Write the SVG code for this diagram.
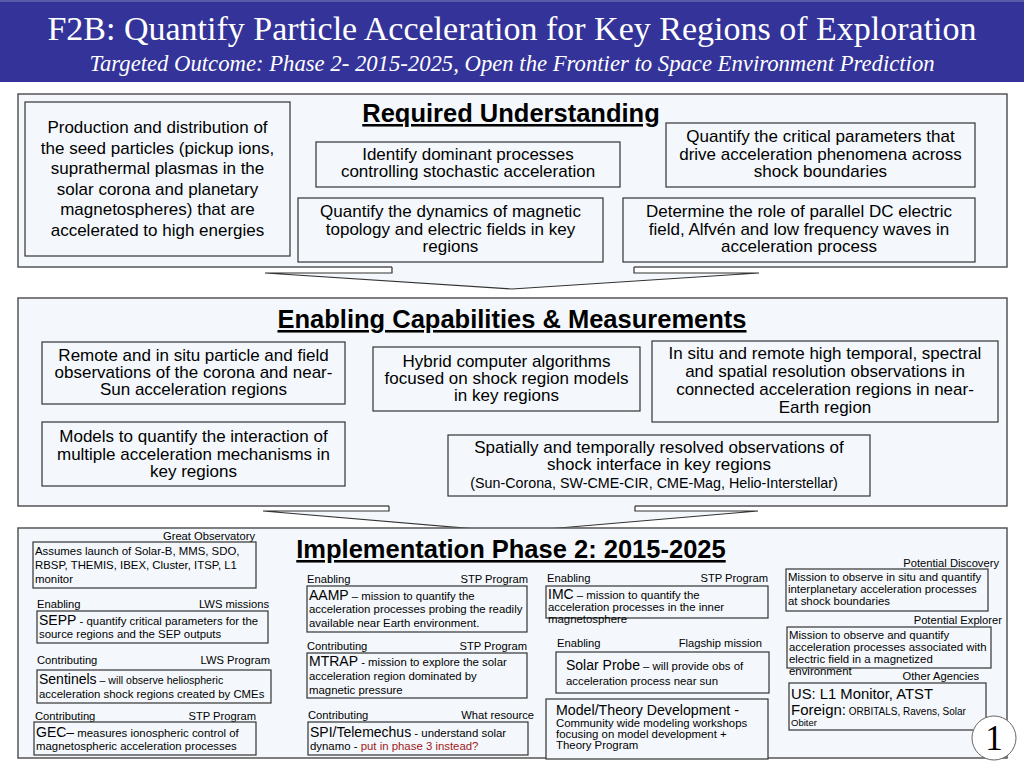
<svg xmlns="http://www.w3.org/2000/svg" width="1024" height="768" viewBox="0 0 1024 768">
<style>
.sec{fill:#f4f8fc;stroke:#555;stroke-width:1.5}
.box{fill:#f4f8fc;stroke:#333;stroke-width:1.2}
.arrf{fill:#f4f8fc;stroke:none}
.arrs{fill:none;stroke:#333;stroke-width:1.2}
text{font-family:"Liberation Sans",Arial,sans-serif;fill:#000}
.c{font-size:17px;text-anchor:middle}
.h{font-size:25.5px;font-weight:bold;text-anchor:middle;text-decoration:underline}
.lab{font-size:11.2px}
.r{text-anchor:end}
.s{font-size:11.4px}
.b{font-size:14px}
.ser{font-family:"Liberation Serif","Times New Roman",serif;fill:#fff}
</style>
<rect x="0" y="0" width="1024" height="82" fill="#333399"/>
<rect x="0" y="0" width="1024" height="2" fill="#5a5aaa"/>
<text class="ser" x="512" y="40" font-size="34" text-anchor="middle">F2B: Quantify Particle Acceleration for Key Regions of Exploration</text>
<text class="ser" x="512" y="71" font-size="22.7" font-style="italic" text-anchor="middle">Targeted Outcome: Phase 2- 2015-2025, Open the Frontier to Space Environment Prediction</text>

<g id="section-required">
<rect class="sec" x="18" y="94" width="989" height="173"/>
<text class="h" x="511" y="122">Required Understanding</text>
</g>
<g id="n-production">
<rect class="box" x="25" y="102" width="265" height="154"/>
<text class="c" x="157.5" y="133">Production and distribution of</text>
<text class="c" x="157.5" y="154">the seed particles (pickup ions,</text>
<text class="c" x="157.5" y="174">suprathermal plasmas in the</text>
<text class="c" x="157.5" y="195">solar corona and planetary</text>
<text class="c" x="157.5" y="215">magnetospheres) that are</text>
<text class="c" x="157.5" y="236">accelerated to high energies</text>
</g>
<g id="n-identify">
<rect class="box" x="316" y="142" width="304" height="45"/>
<text class="c" x="468" y="160">Identify dominant processes</text>
<text class="c" x="468" y="177">controlling stochastic acceleration</text>
</g>
<g id="n-critical">
<rect class="box" x="666" y="123" width="309" height="64"/>
<text class="c" x="820.5" y="142">Quantify the critical parameters that</text>
<text class="c" x="820.5" y="160">drive acceleration phenomena across</text>
<text class="c" x="820.5" y="177">shock boundaries</text>
</g>
<g id="n-dynamics">
<rect class="box" x="298" y="198" width="305" height="64"/>
<text class="c" x="450.5" y="217">Quantify the dynamics of magnetic</text>
<text class="c" x="450.5" y="235">topology and electric fields in key</text>
<text class="c" x="450.5" y="252">regions</text>
</g>
<g id="n-determine">
<rect class="box" x="623" y="198" width="352" height="64"/>
<text class="c" x="799" y="217">Determine the role of parallel DC electric</text>
<text class="c" x="799" y="235">field, Alfvén and low frequency waves in</text>
<text class="c" x="799" y="252">acceleration process</text>
</g>

<g id="section-enabling">
<rect class="sec" x="18" y="298" width="989" height="208"/>
<text class="h" x="512" y="328">Enabling Capabilities &amp; Measurements</text>
</g>
<g id="n-remote">
<rect class="box" x="42" y="342" width="303" height="62"/>
<text class="c" x="193.5" y="361">Remote and in situ particle and field</text>
<text class="c" x="193.5" y="378">observations of the corona and near-</text>
<text class="c" x="193.5" y="395">Sun acceleration regions</text>
</g>
<g id="n-models">
<rect class="box" x="42" y="422" width="303" height="64"/>
<text class="c" x="193.5" y="442">Models to quantify the interaction of</text>
<text class="c" x="193.5" y="460">multiple acceleration mechanisms in</text>
<text class="c" x="193.5" y="477">key regions</text>
</g>
<g id="n-hybrid">
<rect class="box" x="373" y="347" width="267" height="64"/>
<text class="c" x="506.5" y="367">Hybrid computer algorithms</text>
<text class="c" x="506.5" y="384">focused on shock region models</text>
<text class="c" x="506.5" y="401">in key regions</text>
</g>
<g id="n-insitu">
<rect class="box" x="652" y="341" width="346" height="81"/>
<text class="c" x="825" y="359">In situ and remote high temporal, spectral</text>
<text class="c" x="825" y="377">and spatial resolution observations in</text>
<text class="c" x="825" y="395">connected acceleration regions in near-</text>
<text class="c" x="825" y="413">Earth region</text>
</g>
<g id="n-spatially">
<rect class="box" x="448" y="435" width="422" height="61"/>
<text class="c" x="659" y="453">Spatially and temporally resolved observations of</text>
<text class="c" x="659" y="470">shock interface in key regions</text>
<text class="c" x="654" y="488" style="font-size:14.3px">(Sun-Corona, SW-CME-CIR, CME-Mag, Helio-Interstellar)</text>
</g>

<g id="connectors">
<polygon class="arrf" points="392,265 392,273 265,273 512,289 759,273 634,273 634,265"/>
<path class="arrs" d="M392,267 V273 H265 L512,289 L759,273 H634 V267"/>
<polygon class="arrf" points="389,504 389,511 263,511 512,532 758,511 635,511 635,504"/>
<path class="arrs" d="M389,506 V511 H263 L512,532 L758,511 H635 V506"/>
</g>

<g id="section-implementation">
<rect class="sec" x="18" y="528" width="989" height="230"/>
<text class="h" x="511" y="558">Implementation Phase 2: 2015-2025</text>
</g>
<g id="n-great">
<text class="lab r" x="255" y="540">Great Observatory</text>
<rect class="box" x="33" y="542" width="223" height="46"/>
<text class="s" x="35" y="555">Assumes launch of Solar-B, MMS, SDO,</text>
<text class="s" x="35" y="569">RBSP, THEMIS, IBEX, Cluster, ITSP, L1</text>
<text class="s" x="35" y="583">monitor</text>
</g>
<g id="n-sepp">
<text class="lab" x="37" y="608">Enabling</text>
<text class="lab r" x="269" y="608">LWS missions</text>
<rect class="box" x="37" y="611" width="231" height="32"/>
<text class="s" x="39" y="625"><tspan class="b">SEPP</tspan> - quantify critical parameters for the</text>
<text class="s" x="39" y="638">source regions and the SEP outputs</text>
</g>
<g id="n-sentinels">
<text class="lab" x="37" y="664">Contributing</text>
<text class="lab r" x="270" y="664">LWS Program</text>
<rect class="box" x="37" y="670" width="234" height="33"/>
<text x="39" y="684" style="font-size:10.6px"><tspan class="b">Sentinels</tspan> – will observe heliospheric</text>
<text class="s" x="39" y="698">acceleration shock regions created by CMEs</text>
</g>
<g id="n-gec">
<text class="lab" x="35" y="720">Contributing</text>
<text class="lab r" x="256" y="720">STP Program</text>
<rect class="box" x="34" y="722" width="222" height="33"/>
<text class="s" x="36" y="737"><tspan class="b">GEC–</tspan> measures ionospheric control of</text>
<text class="s" x="36" y="750">magnetospheric acceleration processes</text>
</g>
<g id="n-aamp">
<text class="lab" x="307" y="583">Enabling</text>
<text class="lab r" x="528" y="583">STP Program</text>
<rect class="box" x="307" y="586" width="220" height="46"/>
<text class="s" x="309" y="600"><tspan class="b">AAMP</tspan> – mission to quantify the</text>
<text class="s" x="309" y="613">acceleration processes probing the readily</text>
<text class="s" x="309" y="627">available near Earth environment.</text>
</g>
<g id="n-mtrap">
<text class="lab" x="307" y="650">Contributing</text>
<text class="lab r" x="527" y="650">STP Program</text>
<rect class="box" x="307" y="653" width="220" height="45"/>
<text class="s" x="309" y="666"><tspan class="b">MTRAP</tspan> - mission to explore the solar</text>
<text class="s" x="309" y="680">acceleration region dominated by</text>
<text class="s" x="309" y="694">magnetic pressure</text>
</g>
<g id="n-spi">
<text class="lab" x="308" y="719">Contributing</text>
<text class="lab r" x="534" y="719">What resource</text>
<rect class="box" x="308" y="722" width="220" height="33"/>
<text class="s" x="310" y="737"><tspan class="b">SPI/Telemechus</tspan> - understand solar</text>
<text class="s" x="310" y="750">dynamo - <tspan fill="#a01818">put in phase 3 instead?</tspan></text>
</g>
<g id="n-imc">
<text class="lab" x="547" y="582">Enabling</text>
<text class="lab r" x="768" y="582">STP Program</text>
<rect class="box" x="546" y="586" width="222" height="32"/>
<text class="s" x="548" y="599"><tspan class="b">IMC</tspan> – mission to quantify the</text>
<text class="s" x="548" y="611">acceleration processes in the inner</text>
<text class="s" x="548" y="623">magnetosphere</text>
</g>
<g id="n-solarprobe">
<text class="lab" x="557" y="647">Enabling</text>
<text class="lab r" x="762" y="647">Flagship mission</text>
<rect class="box" x="556" y="652" width="213" height="41"/>
<text class="s" x="566" y="670"><tspan style="font-size:14px">Solar Probe</tspan> – will provide obs of</text>
<text class="s" x="566" y="685">acceleration process near sun</text>
</g>
<g id="n-model">
<rect class="box" x="546" y="699" width="222" height="60"/>
<text x="556" y="715" style="font-size:14.2px">Model/Theory Development -</text>
<text class="s" x="556" y="727">Community wide modeling workshops</text>
<text class="s" x="556" y="738">focusing on model development +</text>
<text class="s" x="556" y="749">Theory Program</text>
</g>
<g id="n-discovery">
<text class="lab r" x="999" y="567">Potential Discovery</text>
<rect class="box" x="786" y="569" width="202" height="42"/>
<text class="s" x="788" y="581">Mission to observe in situ and quantify</text>
<text class="s" x="788" y="593">interplanetary acceleration processes</text>
<text class="s" x="788" y="605">at shock boundaries</text>
</g>
<g id="n-explorer">
<text class="lab r" x="1002" y="624">Potential Explorer</text>
<rect class="box" x="787" y="627" width="204" height="41"/>
<text class="s" x="789" y="639">Mission to observe and quantify</text>
<text class="s" x="789" y="651">acceleration processes associated with</text>
<text class="s" x="789" y="663">electric field in a magnetized</text>
<text class="s" x="789" y="675">environment</text>
</g>
<g id="n-agencies">
<text class="lab r" x="979" y="680">Other Agencies</text>
<rect class="box" x="789" y="683" width="197" height="47"/>
<text x="791" y="699" style="font-size:14.8px">US: L1 Monitor, ATST</text>
<text x="791" y="715" style="font-size:10px"><tspan style="font-size:15px">Foreign:</tspan> ORBITALS, Ravens, Solar</text>
<text x="791" y="726" style="font-size:9.5px">Obiter</text>
</g>
<g id="page-number">
<circle cx="994" cy="738" r="22" fill="#fff" stroke="#666" stroke-width="1"/>
<text x="994" y="750" text-anchor="middle" style="font-family:'Liberation Serif','Times New Roman',serif;font-size:35px">1</text>
</g>
</svg>
